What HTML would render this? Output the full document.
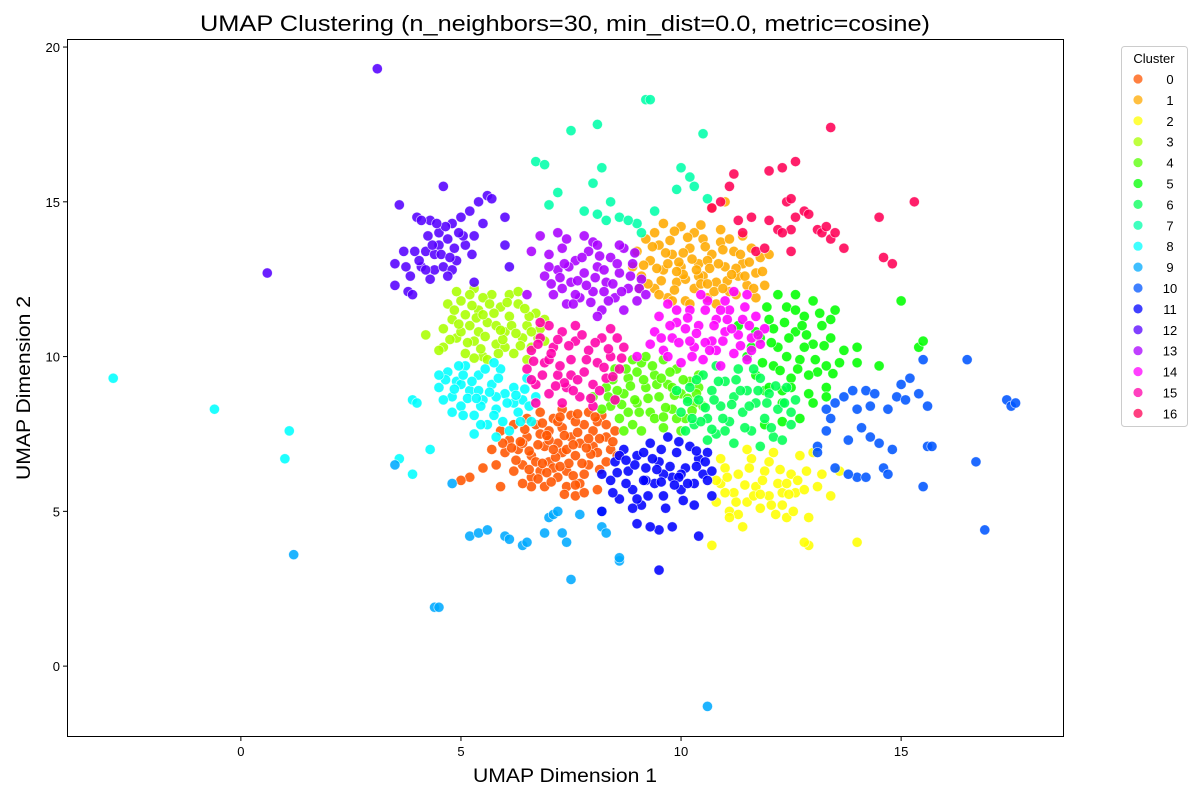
<!DOCTYPE html>
<html><head><meta charset="utf-8"><style>
body{margin:0;background:#fff;}
svg text{font-family:"Liberation Sans","DejaVu Sans",sans-serif;}
</style></head><body>
<svg id="chart" width="1200" height="800" xmlns="http://www.w3.org/2000/svg">
<rect width="1200" height="800" fill="#fff"/>
<text x="565" y="31" font-size="22" text-anchor="middle" textLength="730" lengthAdjust="spacingAndGlyphs">UMAP Clustering (n_neighbors=30, min_dist=0.0, metric=cosine)</text>
<g id="marks"></g>
<rect x="67.5" y="39.5" width="996" height="697" fill="none" stroke="#000" stroke-width="1"/>
<g id="axes"></g>
<text x="565" y="782" font-size="19" text-anchor="middle" textLength="184" lengthAdjust="spacingAndGlyphs">UMAP Dimension 1</text>
<text x="30" y="388" font-size="19" text-anchor="middle" textLength="184" lengthAdjust="spacingAndGlyphs" transform="rotate(-90 30 388)">UMAP Dimension 2</text>
<g id="legend"></g>
</svg>
<script>
const xTicks=[0,5,10,15];
const yTicks=[0,5,10,15,20];
const clusterLabels=["0","1","2","3","4","5","6","7","8","9","10","11","12","13","14","15","16"];
const c0=[6.3,7.0,6.5,7.4,6.6,6.8,6.7,7.8,6.8,6.3,6.9,7.1,7.0,7.6,7.0,6.6,7.1,8.0,7.2,7.2,7.3,6.9,7.3,7.7,7.4,6.3,7.5,7.4,7.5,8.1,7.6,6.8,7.7,7.2,7.7,5.9,7.8,7.8,7.9,6.5,8.0,7.1,8.0,7.6,8.1,6.9,8.2,8.1,8.3,7.4,6.4,6.5,6.6,6.1,6.9,5.8,7.2,6.1,7.6,5.5,7.4,5.8,6.1,7.3,6.0,6.9,5.9,7.6,6.2,7.8,6.5,8.0,6.8,8.2,7.3,8.3,7.9,8.2,8.1,7.9,7.1,6.4,6.7,6.6,7.8,6.2,8.3,6.6,6.6,5.8,7.0,7.3,7.4,7.0,7.6,7.9,6.2,6.3,5.8,6.5,5.9,5.8,5.2,6.1,5.0,6.0,8.4,7.0,7.2,7.9,6.4,7.2,6.8,7.5,7.8,5.6,8.1,5.7];
const c0b=[6.35,7.25,6.55,6.95,6.75,7.15,6.95,7.45,7.15,6.75,7.35,7.45,7.55,7.15,7.75,6.55,7.95,6.85,8.15,7.35,6.45,7.65,6.85,7.85,7.25,8.05,7.65,8.15,8.05,8.05,6.95,6.25,7.45,6.55,7.85,7.05,6.25,6.65,6.55,6.35,7.05,5.95,7.55,6.15,8.15,6.35,7.35,5.55,6.75,6.05,8.3,7.8,5.95,7.2,6.15,7.05,7.1,7.0,7.65,7.55,7.9,7.35,8.45,7.25,6.85,6.55,7.25,6.45,7.6,5.85,6.4,5.9,5.5,6.4,5.7,7.0,8.55,6.8,8.5,7.6];
const c1=[9.1,12.6,9.3,13.1,9.4,12.2,9.5,13.6,9.6,12.8,9.7,11.9,9.8,13.3,9.9,12.4,10.0,14.2,10.0,12.9,10.1,11.8,10.2,13.5,10.3,12.2,10.4,13.0,10.5,13.8,10.5,12.6,10.6,11.9,10.7,13.3,10.8,12.4,10.9,13.7,11.0,12.9,11.1,12.1,11.2,13.4,11.3,12.6,11.4,13.0,11.5,12.3,11.6,13.5,11.7,12.7,11.8,13.2,9.2,13.8,9.0,13.4,8.9,12.9,9.6,14.3,10.3,14.0,10.9,14.1,11.4,13.9,10.2,11.7,10.8,11.7,9.8,11.8,11.1,13.8,10.7,14.8,11.0,15.0,9.5,12.0,10.4,12.6,10.1,12.5,9.7,13.0,11.9,12.3,11.7,11.9,12.0,13.3,9.4,14.0,10.6,13.1];
const c1b=[9.25,12.35,9.45,12.85,9.65,13.35,9.85,12.15,10.05,12.65,10.25,13.15,10.45,12.35,10.65,12.85,10.85,13.0,11.05,12.45,11.25,12.85,11.45,12.6,11.65,12.2,9.35,13.55,9.75,13.75,10.15,13.85,10.55,13.55,10.95,13.45,11.35,13.3,11.55,13.05,9.15,12.95,9.55,12.45,9.95,13.05,10.35,12.8,10.75,12.1,11.15,12.65,10.05,13.35,10.45,14.25,9.85,14.05,11.25,12.0,11.85,12.75,9.05,12.2,10.95,12.2,10.6,12.35,9.9,12.75];
const c2=[10.8,5.3,10.9,5.9,11.0,6.4,11.1,5.0,11.2,5.6,11.3,6.2,11.4,4.5,11.5,5.3,11.6,6.7,11.7,5.8,11.8,5.1,11.9,6.3,12.0,5.5,12.1,6.9,12.2,5.9,12.3,5.2,12.4,4.8,12.5,6.2,12.6,5.6,12.7,6.8,12.8,5.7,12.9,4.8,13.0,6.9,13.2,6.2,13.4,5.5,13.6,6.3,12.9,3.9,14.0,4.0,10.7,3.9,11.5,7.0,12.0,6.6,11.0,5.6,12.3,5.6,11.3,4.9,10.8,6.0,12.8,4.0];
const c2b=[11.05,6.1,11.25,5.3,11.45,5.85,11.65,5.5,11.85,6.0,12.05,5.2,12.25,6.35,12.45,5.55,12.65,6.0,12.85,6.3,11.55,6.4,12.15,4.9,11.8,5.55,12.4,5.9,11.1,4.8,13.1,5.8,10.9,6.7,12.55,5.0];
const c3=[4.6,10.3,4.8,11.2,4.9,10.6,5.0,11.8,5.1,10.1,5.2,11.0,5.3,12.2,5.3,10.5,5.4,11.5,5.5,10.0,5.6,11.1,5.7,12.0,5.8,10.4,5.9,11.6,6.0,10.8,6.1,11.3,6.2,10.1,6.3,11.7,6.4,10.6,6.5,11.0,6.6,10.3,6.7,11.4,6.8,10.9,6.9,11.2,5.0,10.8,5.4,10.8,5.8,11.0,6.1,12.0,4.5,10.2,4.2,10.7,4.7,11.7,5.2,12.0,6.5,9.9,5.6,9.9,6.0,10.3,5.5,11.9,4.9,12.1,6.3,12.1];
const c3b=[4.75,10.55,4.95,11.05,5.15,10.45,5.35,11.25,5.55,10.65,5.75,11.4,5.95,10.55,6.15,11.0,6.35,10.35,6.55,11.3,6.75,10.6,4.85,11.5,5.25,11.65,5.65,11.7,6.05,11.75,6.45,11.55,5.45,10.25,5.85,10.1,6.25,10.75,4.6,10.9,5.1,11.35,5.5,11.35,5.9,10.85,6.6,10.8,5.3,9.95,6.9,10.5];
const c4=[8.3,9.0,8.4,8.4,8.5,9.6,8.6,8.0,8.7,8.8,8.8,9.3,8.9,7.8,9.0,8.5,9.1,9.8,9.2,9.0,9.3,8.2,9.4,9.4,9.5,8.7,9.6,7.7,9.7,9.1,9.8,8.3,9.9,9.6,10.0,8.8,10.1,8.0,10.2,9.2,10.3,8.5,10.4,9.0,8.5,8.6,9.0,9.5,9.4,8.0,9.8,9.0,8.2,8.3,8.0,8.7,9.2,10.0,9.6,9.9,10.5,8.4,9.1,7.6,8.7,7.6,10.0,7.6,8.9,9.9];
const c4b=[8.45,9.25,8.65,8.45,8.85,9.05,9.05,8.2,9.25,8.65,9.45,9.1,9.65,8.35,9.85,8.75,10.05,9.25,10.25,8.25,8.55,8.9,8.95,8.6,9.35,9.7,9.75,9.5,10.15,8.65,9.15,9.25,9.55,9.3,8.75,9.6,9.6,8.05,10.35,8.8,8.8,8.2,9.9,8.0,10.4,9.4,8.35,8.7];
const c5=[11.5,10.0,11.7,9.4,11.8,10.6,11.9,8.9,12.0,11.2,12.1,9.7,12.2,10.3,12.3,8.5,12.4,11.6,12.5,9.3,12.6,10.8,12.7,9.9,12.8,11.3,12.9,8.8,13.0,10.4,13.1,9.5,13.2,11.0,13.3,9.0,13.4,10.6,13.5,11.5,13.6,9.8,12.0,9.0,12.4,10.0,12.8,10.3,13.0,11.8,12.6,12.0,12.2,12.0,14.0,10.3,14.0,9.8,14.5,9.7,15.0,11.8,15.4,10.3,15.5,10.5,12.3,7.9,12.7,8.0,13.3,8.7,11.3,11.0,11.9,7.8];
const c5b=[11.6,10.3,11.85,9.8,12.05,10.45,12.25,9.55,12.45,10.6,12.65,9.6,12.85,10.7,13.05,9.9,13.25,10.35,13.45,9.45,12.35,11.1,12.75,11.0,13.15,11.4,12.5,9.0,12.9,9.4,13.3,9.7,12.1,10.9,11.95,11.6,12.6,11.5,13.4,11.2,13.7,10.2,12.3,8.9,11.7,10.8,13.0,8.5];
const c6=[10.0,8.2,10.2,9.0,10.3,7.8,10.4,8.6,10.5,9.4,10.6,8.0,10.7,8.9,10.8,7.5,10.9,8.4,11.0,9.2,11.1,7.9,11.2,8.7,11.3,9.6,11.4,8.2,11.5,8.9,11.6,7.6,11.7,8.5,11.8,9.3,11.9,8.0,12.0,8.8,12.1,7.4,12.2,8.3,12.4,9.0,12.5,7.8,10.1,7.6,10.6,7.3,11.2,7.2,11.8,7.1,12.3,7.3,9.9,8.9,10.8,9.7,12.6,8.6];
const c6b=[10.15,8.55,10.35,9.25,10.55,8.35,10.75,8.6,10.95,8.0,11.15,8.45,11.35,8.9,11.55,8.4,11.75,8.9,11.95,8.5,12.15,9.05,12.35,8.5,10.45,7.9,10.85,9.2,11.25,9.25,11.65,9.6,12.05,7.7,11.45,7.7,10.7,7.65,11.0,7.6,12.5,8.2,10.25,8.0];
const c7=[9.2,18.3,9.3,18.3,7.5,17.3,8.1,17.5,10.5,17.2,6.7,16.3,6.9,16.2,7.2,15.3,7.0,14.9,8.2,16.1,8.4,15.0,8.6,14.5,8.3,14.4,9.0,14.3,9.4,14.7,9.9,15.4,10.0,16.1,10.2,15.8,10.3,15.5,8.0,15.6,10.6,15.1,9.1,14.0,8.8,14.4,8.1,14.6,7.8,14.7];
const c8=[4.5,9.0,4.7,9.5,4.8,8.7,4.9,9.2,5.0,8.4,5.1,9.7,5.2,8.9,5.3,8.1,5.4,9.4,5.5,8.6,5.6,7.8,5.7,9.1,5.8,8.3,5.9,9.6,6.0,8.8,6.1,7.6,6.2,9.0,6.3,8.2,6.4,8.6,6.5,9.3,6.6,7.9,5.0,9.1,5.4,8.9,5.8,8.7,6.2,8.5,3.9,8.6,4.0,8.5,4.8,8.2,5.3,7.5,5.8,7.4,-2.9,9.3,-0.6,8.3,1.1,7.6,1.0,6.7,3.6,6.7,3.9,6.2,4.3,7.0,6.7,8.7];
const c8b=[4.65,9.25,4.85,8.95,5.05,9.4,5.25,9.2,5.45,8.4,5.65,8.85,5.85,9.3,6.05,8.5,6.25,8.75,6.45,8.95,5.15,8.65,5.35,8.65,5.55,9.6,5.75,8.1,5.95,7.9,6.35,7.9,5.05,8.1,4.6,8.6,4.95,9.7,5.45,7.8,6.55,8.4,5.75,9.8,4.5,9.4];
const c9=[3.5,6.5,4.4,1.9,4.5,1.9,5.2,4.2,5.4,4.3,5.6,4.4,6.0,4.2,6.1,4.1,6.4,3.9,6.5,4.0,7.0,4.8,7.1,4.9,7.3,4.3,7.4,4.0,7.5,2.8,7.2,5.0,7.7,4.9,8.2,4.5,8.3,4.3,8.6,3.4,8.6,3.5,1.2,3.6,10.6,-1.3,4.8,5.9,6.9,4.3,8.2,5.0];
const c10=[13.1,7.1,13.3,7.6,13.3,8.3,13.5,8.5,13.7,8.7,13.8,7.3,13.9,8.9,14.0,8.3,14.1,7.7,14.2,8.9,14.3,7.4,14.4,8.8,14.5,7.2,14.6,6.4,14.7,6.2,14.7,8.3,14.8,7.0,14.9,8.7,15.0,9.1,15.1,8.6,15.2,9.3,15.4,8.8,15.5,9.9,15.6,8.4,15.6,7.1,15.7,7.1,15.5,5.8,16.5,9.9,16.7,6.6,16.9,4.4,17.4,8.6,17.5,8.4,17.6,8.5,14.0,6.1,14.2,6.1,13.8,6.2,13.5,6.4,13.1,6.9,13.4,8.0,14.3,8.4];
const c11=[8.4,6.0,8.5,6.6,8.6,5.4,8.7,7.0,8.8,6.3,8.9,5.7,9.0,6.8,9.1,5.2,9.2,6.4,9.3,7.2,9.4,5.9,9.5,6.6,9.6,5.5,9.7,7.4,9.8,6.1,9.9,6.9,10.0,5.7,10.1,6.4,10.2,7.1,10.3,5.9,10.4,6.7,10.5,6.2,10.6,6.9,10.7,5.5,9.5,4.4,9.3,4.5,9.0,4.6,8.9,5.1,9.8,4.5,9.5,3.1,10.4,4.2,10.6,6.0,8.6,6.8,9.2,6.0,9.6,6.2,10.0,6.2,8.2,6.2,8.2,5.0];
const c11b=[8.55,6.25,8.75,5.9,8.95,6.5,9.15,6.0,9.35,6.7,9.55,5.95,9.75,6.45,9.95,6.1,10.15,5.9,10.35,6.45,10.55,6.6,8.75,6.65,9.15,6.9,9.55,7.0,9.95,7.25,10.35,6.95,9.25,5.5,9.65,5.1,10.05,5.35,9.45,6.35,9.85,5.85,8.45,5.6,9.0,5.4,10.7,6.3,10.3,5.2];
const c12=[3.5,12.3,3.7,13.4,3.8,12.1,3.9,12.0,4.0,14.5,4.1,12.9,4.2,13.4,4.3,14.4,4.4,12.8,4.5,13.6,4.5,14.0,4.6,12.9,4.7,13.8,4.8,14.3,4.9,13.1,5.0,14.5,4.6,15.5,5.1,13.6,5.2,14.7,5.3,13.9,5.4,15.0,5.6,15.2,5.7,15.1,4.8,12.8,4.4,13.3,4.1,14.4,3.5,13.0,3.6,14.9,0.6,12.7,3.1,19.3,6.0,14.5,6.0,13.6,6.1,12.9,4.7,12.6,5.3,12.4,4.2,12.8];
const c12b=[3.95,13.4,4.35,13.6,4.55,13.3,4.65,14.2,4.25,13.9,4.85,13.5,5.05,13.9,3.85,12.6,4.05,13.1,4.45,14.3,4.75,13.2,5.25,13.3,3.75,12.9,4.95,14.0,4.3,12.5,5.5,14.3];
const c13=[6.9,12.6,7.0,13.3,7.1,12.0,7.2,12.8,7.3,13.5,7.4,11.7,7.5,12.4,7.6,13.1,7.7,11.9,7.8,12.7,7.9,13.4,8.0,12.1,8.1,12.9,8.2,11.5,8.3,12.4,8.4,13.2,8.5,11.9,8.6,12.7,8.7,13.5,8.8,12.2,8.9,13.0,9.0,11.8,9.1,12.5,7.6,12.0,8.0,13.7,7.8,13.9,7.3,12.2,8.7,11.5,6.6,13.4,6.8,13.9,7.2,14.0,8.1,13.6,6.5,12.0];
const c13b=[7.05,12.35,7.25,12.55,7.45,12.9,7.65,12.45,7.85,12.3,8.05,12.55,8.25,12.8,8.45,12.35,8.65,12.1,8.85,12.6,9.05,12.2,7.35,13.0,7.75,13.2,8.15,13.25,8.55,13.0,8.95,13.35,7.55,11.7,7.95,11.75,8.35,11.8,8.25,12.1,7.0,12.9,8.6,13.6,7.4,13.8,9.2,12.0,8.1,11.3];
const c14=[9.4,10.8,9.5,11.3,9.6,10.2,9.7,11.7,9.8,10.6,9.9,11.1,10.0,9.8,10.1,10.9,10.2,11.5,10.3,10.3,10.4,11.0,10.5,9.9,10.6,11.8,10.7,10.5,10.8,11.2,10.9,9.7,11.0,10.8,11.1,11.5,11.2,10.1,11.3,10.7,11.4,11.2,11.5,9.9,11.6,10.6,11.7,11.3,11.8,10.4,11.9,10.9,9.0,10.0,10.2,10.5,10.8,10.2,11.2,12.1,11.5,12.0];
const c14b=[9.55,10.6,9.75,11.0,9.95,10.45,10.15,11.25,10.35,10.75,10.55,10.45,10.75,11.0,10.95,10.5,11.15,10.9,11.35,10.35,11.55,11.0,11.75,10.7,10.25,10.0,10.65,10.2,11.05,11.2,11.45,11.6,10.55,11.5,9.9,11.5,10.45,12.0,11.0,11.8,9.7,10.0,11.6,10.2,10.9,11.5,9.3,10.4];
const c15=[6.5,9.6,6.6,10.2,6.7,9.1,6.8,10.6,6.9,9.8,7.0,8.8,7.1,10.3,7.2,9.4,7.3,10.8,7.4,9.0,7.5,9.9,7.6,10.5,7.7,8.7,7.8,9.5,7.9,10.2,8.0,9.1,8.1,9.8,8.2,10.6,8.3,9.3,8.4,10.0,8.5,8.6,8.6,9.6,8.7,10.3,6.7,8.5,7.3,8.5,8.0,8.4,7.0,11.0,7.6,11.0,8.4,10.9,7.5,9.4,7.0,9.9,6.8,11.1];
const c15b=[6.65,9.85,6.85,9.4,7.05,10.1,7.25,9.7,7.45,10.35,7.65,9.25,7.85,9.9,8.05,10.45,8.25,9.65,8.45,9.35,8.65,9.95,7.35,9.15,7.75,10.7,8.15,8.9,6.75,10.4,7.15,9.05,8.55,10.6,7.95,8.65,6.6,9.25,7.55,8.9,7.2,10.55,8.35,10.25];
const c16=[10.7,14.8,10.9,15.0,11.1,15.5,11.2,15.9,11.3,14.4,11.6,14.5,11.7,13.4,11.4,14.0,11.9,13.5,12.0,16.0,12.0,14.4,12.2,14.1,12.3,16.1,12.4,15.0,12.5,15.1,12.6,16.3,12.6,14.5,12.5,14.1,12.5,13.4,12.8,14.7,12.9,14.6,13.1,14.1,13.2,14.0,13.3,14.2,13.4,13.8,13.4,17.4,13.5,14.0,13.7,13.5,14.5,14.5,14.6,13.2,14.8,13.0,15.3,15.0,12.3,14.0];
const clusters=[c0.concat(c0b),c1.concat(c1b),c2.concat(c2b),c3.concat(c3b),c4.concat(c4b),c5.concat(c5b),c6.concat(c6b),c7,c8.concat(c8b),c9,c10,c11.concat(c11b),c12.concat(c12b),c13.concat(c13b),c14.concat(c14b),c15.concat(c15b),c16];

const NS="http://www.w3.org/2000/svg";
const X0=67,X1=1064,Y0=39,Y1=737;
const xMin=-3.95,xMax=18.7,yMin=-2.29,yMax=20.26;
const sx=v=>X0+(v-xMin)/(xMax-xMin)*(X1-X0);
const sy=v=>Y1-(v-yMin)/(yMax-yMin)*(Y1-Y0);
const col=i=>`hsl(${20+20*i},100%,50%)`;
function mk(tag,attrs,parent){const e=document.createElementNS(NS,tag);for(const k in attrs)e.setAttribute(k,attrs[k]);parent.appendChild(e);return e;}

const marks=document.getElementById('marks');
clusters.forEach((arr,ci)=>{
  const g=mk('g',{},marks);
  
  
  for(let k=0;k<arr.length;k+=2){
    const c=mk('circle',{cx:sx(arr[k]),cy:sy(arr[k+1]),r:5.1,fill:col(ci),'fill-opacity':0.88,stroke:'#fff','stroke-width':0.7,'stroke-opacity':0.7},g);
    
    
  }
});

const axes=document.getElementById('axes');
xTicks.forEach(t=>{
  const x=sx(t);
  const l=mk('line',{x1:x,x2:x,y1:Y1,y2:Y1+4,stroke:'#000'},axes);
  
  
  const tx=mk('text',{x:x,y:Y1+19,'font-size':13,'text-anchor':'middle'},axes);
  tx.textContent=t;
  
  
});
yTicks.forEach(t=>{
  const y=sy(t);
  const l=mk('line',{x1:X0-4,x2:X0,y1:y,y2:y,stroke:'#000'},axes);
  
  
  const tx=mk('text',{x:X0-7,y:y+5,'font-size':13,'text-anchor':'end'},axes);
  tx.textContent=t;
  
  
});

const lg=document.getElementById('legend');
const box=mk('rect',{x:1121.5,y:46.5,width:66,height:380,rx:3,fill:'#fff',stroke:'#ccc'},lg);


const lt=mk('text',{x:1154,y:63,'font-size':13,'text-anchor':'middle'},lg);
lt.textContent='Cluster';


clusterLabels.forEach((lab,i)=>{
  const y=79+i*20.9;
  const c=mk('circle',{cx:1138,cy:y,r:5,fill:col(i),'fill-opacity':0.75,stroke:'#fff','stroke-width':0.8},lg);
  
  
  const t=mk('text',{x:1170,y:y+5,'font-size':13,'text-anchor':'middle'},lg);
  t.textContent=lab;
  
  
});
</script>
</body></html>
